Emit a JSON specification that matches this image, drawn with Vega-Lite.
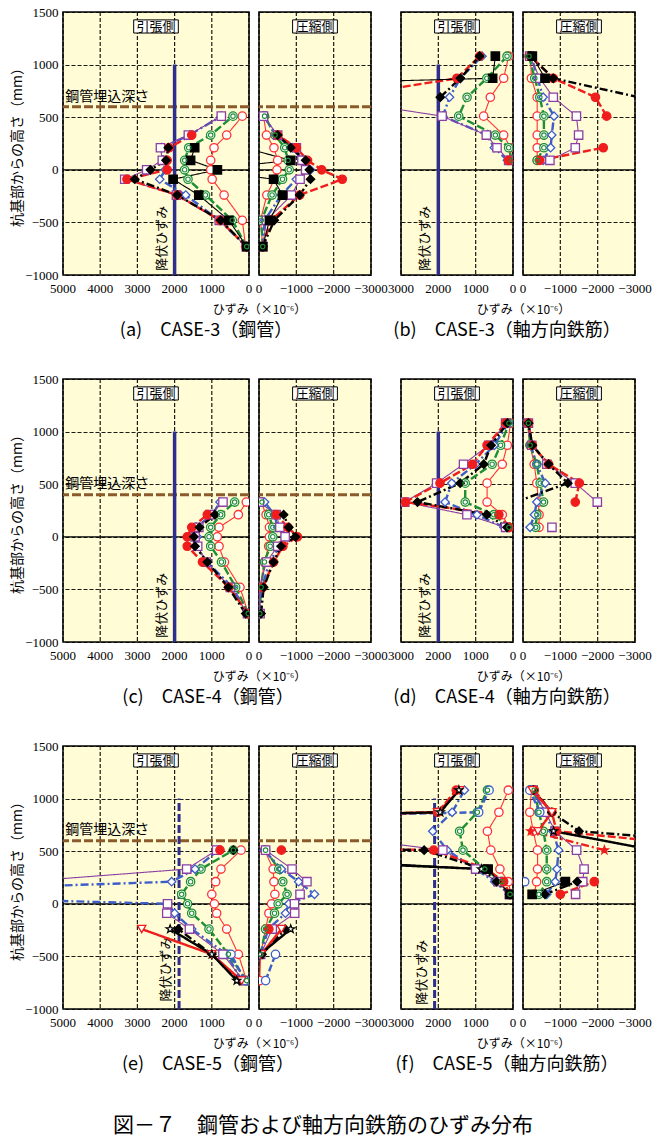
{
"$schema": "https://vega.github.io/schema/vega-lite/v6.json",
"padding": {"left": 9, "top": 5, "right": 2, "bottom": 6},
"background": "#ffffff",
"datasets": {"d": [
{"p":"at","s":"a","y":510,"x":180},{"p":"at","s":"a","y":330,"x":600},{"p":"at","s":"a","y":210,"x":940},{"p":"at","s":"a","y":90,"x":1030},{"p":"at","s":"a","y":0,"x":1030},{"p":"at","s":"a","y":-90,"x":990},{"p":"at","s":"a","y":-240,"x":670},{"p":"at","s":"a","y":-480,"x":180},{"p":"at","s":"a","y":-730,"x":90},
{"p":"at","s":"b","y":510,"x":430},{"p":"at","s":"b","y":330,"x":1030},{"p":"at","s":"b","y":210,"x":1620},{"p":"at","s":"b","y":90,"x":1730},{"p":"at","s":"b","y":0,"x":1730},{"p":"at","s":"b","y":-90,"x":1640},{"p":"at","s":"b","y":-240,"x":1170},{"p":"at","s":"b","y":-480,"x":450},{"p":"at","s":"b","y":-730,"x":60},
{"p":"at","s":"c","y":510,"x":745},{"p":"at","s":"c","y":330,"x":1600},{"p":"at","s":"c","y":210,"x":2350},{"p":"at","s":"c","y":90,"x":2300},{"p":"at","s":"c","y":0,"x":2250},{"p":"at","s":"c","y":-90,"x":2400},{"p":"at","s":"c","y":-240,"x":1700},{"p":"at","s":"c","y":-480,"x":800},{"p":"at","s":"c","y":-730,"x":70},
{"p":"at","s":"d","y":510,"x":745},{"p":"at","s":"d","y":330,"x":1630},{"p":"at","s":"d","y":210,"x":2380},{"p":"at","s":"d","y":90,"x":2330},{"p":"at","s":"d","y":0,"x":2750},{"p":"at","s":"d","y":-90,"x":3340},{"p":"at","s":"d","y":-240,"x":1950},{"p":"at","s":"d","y":-480,"x":800},{"p":"at","s":"d","y":-730,"x":70},
{"p":"at","s":"e","y":330,"x":1540},{"p":"at","s":"e","y":210,"x":2150},{"p":"at","s":"e","y":90,"x":2200},{"p":"at","s":"e","y":0,"x":2200},{"p":"at","s":"e","y":-90,"x":3280},{"p":"at","s":"e","y":-240,"x":1930},{"p":"at","s":"e","y":-480,"x":780},{"p":"at","s":"e","y":-730,"x":70},
{"p":"at","s":"f","y":210,"x":2170},{"p":"at","s":"f","y":90,"x":2230},{"p":"at","s":"f","y":0,"x":2650},{"p":"at","s":"f","y":-90,"x":3070},{"p":"at","s":"f","y":-240,"x":1930},{"p":"at","s":"f","y":-480,"x":760},{"p":"at","s":"f","y":-730,"x":60},
{"p":"at","s":"g","y":210,"x":1460},{"p":"at","s":"g","y":90,"x":1570},{"p":"at","s":"g","y":0,"x":850},{"p":"at","s":"g","y":-90,"x":2040},{"p":"at","s":"g","y":-240,"x":1350},{"p":"at","s":"g","y":-480,"x":540},{"p":"at","s":"g","y":-730,"x":60},

{"p":"ac","s":"a","y":510,"x":-120},{"p":"ac","s":"a","y":330,"x":-200},{"p":"ac","s":"a","y":210,"x":-400},{"p":"ac","s":"a","y":90,"x":-500},{"p":"ac","s":"a","y":0,"x":-480},{"p":"ac","s":"a","y":-90,"x":-410},{"p":"ac","s":"a","y":-240,"x":-210},{"p":"ac","s":"a","y":-480,"x":-40},{"p":"ac","s":"a","y":-730,"x":-100},
{"p":"ac","s":"b","y":510,"x":-150},{"p":"ac","s":"b","y":330,"x":-430},{"p":"ac","s":"b","y":210,"x":-690},{"p":"ac","s":"b","y":90,"x":-780},{"p":"ac","s":"b","y":0,"x":-810},{"p":"ac","s":"b","y":-90,"x":-630},{"p":"ac","s":"b","y":-240,"x":-350},{"p":"ac","s":"b","y":-480,"x":-60},{"p":"ac","s":"b","y":-730,"x":-100},
{"p":"ac","s":"c","y":510,"x":-130},{"p":"ac","s":"c","y":330,"x":-450},{"p":"ac","s":"c","y":210,"x":-900},{"p":"ac","s":"c","y":90,"x":-1150},{"p":"ac","s":"c","y":0,"x":-1380},{"p":"ac","s":"c","y":-90,"x":-1000},{"p":"ac","s":"c","y":-240,"x":-600},{"p":"ac","s":"c","y":-480,"x":-150},{"p":"ac","s":"c","y":-730,"x":-100},
{"p":"ac","s":"d","y":510,"x":-120},{"p":"ac","s":"d","y":330,"x":-500},{"p":"ac","s":"d","y":210,"x":-1000},{"p":"ac","s":"d","y":90,"x":-1150},{"p":"ac","s":"d","y":0,"x":-1250},{"p":"ac","s":"d","y":-90,"x":-1100},{"p":"ac","s":"d","y":-240,"x":-870},{"p":"ac","s":"d","y":-480,"x":-200},{"p":"ac","s":"d","y":-730,"x":-100},
{"p":"ac","s":"e","y":330,"x":-500},{"p":"ac","s":"e","y":210,"x":-1000},{"p":"ac","s":"e","y":90,"x":-1300},{"p":"ac","s":"e","y":0,"x":-1680},{"p":"ac","s":"e","y":-90,"x":-2230},{"p":"ac","s":"e","y":-240,"x":-1090},{"p":"ac","s":"e","y":-480,"x":-320},{"p":"ac","s":"e","y":-730,"x":-100},
{"p":"ac","s":"f","y":330,"x":-500},{"p":"ac","s":"f","y":210,"x":-850},{"p":"ac","s":"f","y":90,"x":-1250},{"p":"ac","s":"f","y":0,"x":-1350},{"p":"ac","s":"f","y":-90,"x":-1380},{"p":"ac","s":"f","y":-240,"x":-1090},{"p":"ac","s":"f","y":-480,"x":-410},{"p":"ac","s":"f","y":-730,"x":-100},
{"p":"ac","s":"g","y":210,"x":400},{"p":"ac","s":"g","y":90,"x":-850},{"p":"ac","s":"g","y":0,"x":1500},{"p":"ac","s":"g","y":-90,"x":-390},{"p":"ac","s":"g","y":-240,"x":-630},{"p":"ac","s":"g","y":-480,"x":-280},{"p":"ac","s":"g","y":-730,"x":-100},

{"p":"bt","s":"a","y":1080,"x":116},{"p":"bt","s":"a","y":870,"x":250},{"p":"bt","s":"a","y":690,"x":607},{"p":"bt","s":"a","y":510,"x":786},{"p":"bt","s":"a","y":330,"x":250},{"p":"bt","s":"a","y":210,"x":71},{"p":"bt","s":"a","y":90,"x":90},
{"p":"bt","s":"b","y":1080,"x":160},{"p":"bt","s":"b","y":870,"x":700},{"p":"bt","s":"b","y":690,"x":1230},{"p":"bt","s":"b","y":510,"x":1455},{"p":"bt","s":"b","y":330,"x":473},{"p":"bt","s":"b","y":210,"x":116},{"p":"bt","s":"b","y":90,"x":27},
{"p":"bt","s":"c","y":1080,"x":830},{"p":"bt","s":"c","y":870,"x":1410},{"p":"bt","s":"c","y":690,"x":1700},{"p":"bt","s":"c","y":510,"x":1880},{"p":"bt","s":"c","y":330,"x":700},{"p":"bt","s":"c","y":210,"x":500},{"p":"bt","s":"c","y":90,"x":150},
{"p":"bt","s":"d","y":690,"x":5200},{"p":"bt","s":"d","y":510,"x":1900},{"p":"bt","s":"d","y":330,"x":714},{"p":"bt","s":"d","y":210,"x":428},{"p":"bt","s":"d","y":90,"x":116},
{"p":"bt","s":"e","y":1080,"x":893},{"p":"bt","s":"e","y":870,"x":1500},{"p":"bt","s":"e","y":690,"x":4700},{"p":"bt","s":"e","y":510,"x":null},{"p":"bt","s":"e","y":90,"x":116},
{"p":"bt","s":"f","y":1080,"x":893},{"p":"bt","s":"f","y":870,"x":1410},{"p":"bt","s":"f","y":690,"x":1947},
{"p":"bt","s":"g","y":1080,"x":473},{"p":"bt","s":"g","y":870,"x":545},{"p":"bt","s":"g","y":690,"x":20000},

{"p":"bc","s":"a","y":1080,"x":-200},{"p":"bc","s":"a","y":870,"x":-225},{"p":"bc","s":"a","y":690,"x":-380},{"p":"bc","s":"a","y":510,"x":-380},{"p":"bc","s":"a","y":330,"x":-380},{"p":"bc","s":"a","y":210,"x":-380},{"p":"bc","s":"a","y":90,"x":-380},
{"p":"bc","s":"b","y":1080,"x":-160},{"p":"bc","s":"b","y":870,"x":-315},{"p":"bc","s":"b","y":690,"x":-450},{"p":"bc","s":"b","y":510,"x":-560},{"p":"bc","s":"b","y":330,"x":-560},{"p":"bc","s":"b","y":210,"x":-560},{"p":"bc","s":"b","y":90,"x":-380},
{"p":"bc","s":"c","y":1080,"x":-225},{"p":"bc","s":"c","y":870,"x":-390},{"p":"bc","s":"c","y":690,"x":-540},{"p":"bc","s":"c","y":510,"x":-830},{"p":"bc","s":"c","y":330,"x":-770},{"p":"bc","s":"c","y":210,"x":-740},{"p":"bc","s":"c","y":90,"x":-540},
{"p":"bc","s":"d","y":1080,"x":-180},{"p":"bc","s":"d","y":870,"x":-450},{"p":"bc","s":"d","y":690,"x":-810},{"p":"bc","s":"d","y":510,"x":-1430},{"p":"bc","s":"d","y":330,"x":-1490},{"p":"bc","s":"d","y":210,"x":-1400},{"p":"bc","s":"d","y":90,"x":-720},
{"p":"bc","s":"e","y":1080,"x":-200},{"p":"bc","s":"e","y":870,"x":-810},{"p":"bc","s":"e","y":690,"x":-1940},{"p":"bc","s":"e","y":510,"x":-2240},{"p":"bc","s":"e","y":330,"x":null},{"p":"bc","s":"e","y":210,"x":-2150},{"p":"bc","s":"e","y":90,"x":-450},
{"p":"bc","s":"f","y":1080,"x":-200},{"p":"bc","s":"f","y":870,"x":-810},{"p":"bc","s":"f","y":690,"x":-3100},
{"p":"bc","s":"g","y":1080,"x":-250},{"p":"bc","s":"g","y":870,"x":-590},

{"p":"ct","s":"a","y":330,"x":72},{"p":"ct","s":"a","y":210,"x":287},{"p":"ct","s":"a","y":90,"x":806},{"p":"ct","s":"a","y":0,"x":851},{"p":"ct","s":"a","y":-90,"x":806},{"p":"ct","s":"a","y":-240,"x":660},{"p":"ct","s":"a","y":-480,"x":242},{"p":"ct","s":"a","y":-730,"x":20},
{"p":"ct","s":"b","y":330,"x":385},{"p":"ct","s":"b","y":210,"x":762},{"p":"ct","s":"b","y":90,"x":1030},{"p":"ct","s":"b","y":0,"x":1075},{"p":"ct","s":"b","y":-90,"x":1030},{"p":"ct","s":"b","y":-240,"x":740},{"p":"ct","s":"b","y":-480,"x":358},{"p":"ct","s":"b","y":-730,"x":20},
{"p":"ct","s":"c","y":330,"x":780},{"p":"ct","s":"c","y":210,"x":985},{"p":"ct","s":"c","y":90,"x":1430},{"p":"ct","s":"c","y":0,"x":1390},{"p":"ct","s":"c","y":-90,"x":1430},{"p":"ct","s":"c","y":-240,"x":1120},{"p":"ct","s":"c","y":-480,"x":450},{"p":"ct","s":"c","y":-730,"x":40},
{"p":"ct","s":"d","y":330,"x":700},{"p":"ct","s":"d","y":210,"x":1050},{"p":"ct","s":"d","y":90,"x":1350},{"p":"ct","s":"d","y":0,"x":1450},{"p":"ct","s":"d","y":-90,"x":1380},{"p":"ct","s":"d","y":-240,"x":1150},{"p":"ct","s":"d","y":-480,"x":500},{"p":"ct","s":"d","y":-730,"x":40},
{"p":"ct","s":"e","y":210,"x":1120},{"p":"ct","s":"e","y":90,"x":1540},{"p":"ct","s":"e","y":0,"x":1660},{"p":"ct","s":"e","y":-90,"x":1660},{"p":"ct","s":"e","y":-240,"x":1250},{"p":"ct","s":"e","y":-480,"x":540},{"p":"ct","s":"e","y":-730,"x":20},
{"p":"ct","s":"f","y":210,"x":915},{"p":"ct","s":"f","y":90,"x":1330},{"p":"ct","s":"f","y":0,"x":1480},{"p":"ct","s":"f","y":-90,"x":1450},{"p":"ct","s":"f","y":-240,"x":1120},{"p":"ct","s":"f","y":-480,"x":555},{"p":"ct","s":"f","y":-730,"x":90},

{"p":"cc","s":"a","y":330,"x":-60},{"p":"cc","s":"a","y":210,"x":-190},{"p":"cc","s":"a","y":90,"x":-280},{"p":"cc","s":"a","y":0,"x":-280},{"p":"cc","s":"a","y":-90,"x":-260},{"p":"cc","s":"a","y":-240,"x":-145},{"p":"cc","s":"a","y":-480,"x":-45},{"p":"cc","s":"a","y":-730,"x":-20},
{"p":"cc","s":"b","y":330,"x":-80},{"p":"cc","s":"b","y":210,"x":-260},{"p":"cc","s":"b","y":90,"x":-370},{"p":"cc","s":"b","y":0,"x":-370},{"p":"cc","s":"b","y":-90,"x":-300},{"p":"cc","s":"b","y":-240,"x":-145},{"p":"cc","s":"b","y":-480,"x":-55},{"p":"cc","s":"b","y":-730,"x":-20},
{"p":"cc","s":"c","y":330,"x":-150},{"p":"cc","s":"c","y":210,"x":-415},{"p":"cc","s":"c","y":90,"x":-500},{"p":"cc","s":"c","y":0,"x":-685},{"p":"cc","s":"c","y":-90,"x":-550},{"p":"cc","s":"c","y":-240,"x":-280},{"p":"cc","s":"c","y":-480,"x":-80},{"p":"cc","s":"c","y":-730,"x":-30},
{"p":"cc","s":"d","y":330,"x":-10},{"p":"cc","s":"d","y":210,"x":-460},{"p":"cc","s":"d","y":90,"x":-560},{"p":"cc","s":"d","y":0,"x":-700},{"p":"cc","s":"d","y":-90,"x":-500},{"p":"cc","s":"d","y":-240,"x":-200},{"p":"cc","s":"d","y":-480,"x":-10},{"p":"cc","s":"d","y":-730,"x":-30},
{"p":"cc","s":"e","y":210,"x":-460},{"p":"cc","s":"e","y":90,"x":-775},{"p":"cc","s":"e","y":0,"x":-1030},{"p":"cc","s":"e","y":-90,"x":-640},{"p":"cc","s":"e","y":-240,"x":-390},{"p":"cc","s":"e","y":-480,"x":-100},
{"p":"cc","s":"f","y":210,"x":-660},{"p":"cc","s":"f","y":90,"x":-800},{"p":"cc","s":"f","y":0,"x":-980},{"p":"cc","s":"f","y":-90,"x":-590},{"p":"cc","s":"f","y":-240,"x":-390},{"p":"cc","s":"f","y":-480,"x":-125},{"p":"cc","s":"f","y":-730,"x":-55},

{"p":"dt","s":"a","y":1080,"x":63},{"p":"dt","s":"a","y":870,"x":153},{"p":"dt","s":"a","y":690,"x":288},{"p":"dt","s":"a","y":510,"x":694},{"p":"dt","s":"a","y":330,"x":694},{"p":"dt","s":"a","y":210,"x":288},{"p":"dt","s":"a","y":90,"x":108},
{"p":"dt","s":"b","y":1080,"x":108},{"p":"dt","s":"b","y":870,"x":333},{"p":"dt","s":"b","y":690,"x":559},{"p":"dt","s":"b","y":510,"x":1280},{"p":"dt","s":"b","y":330,"x":1280},{"p":"dt","s":"b","y":210,"x":514},{"p":"dt","s":"b","y":90,"x":108},
{"p":"dt","s":"c","y":1080,"x":126},{"p":"dt","s":"c","y":870,"x":500},{"p":"dt","s":"c","y":690,"x":1000},{"p":"dt","s":"c","y":510,"x":1640},{"p":"dt","s":"c","y":330,"x":1820},{"p":"dt","s":"c","y":210,"x":964},{"p":"dt","s":"c","y":90,"x":243},
{"p":"dt","s":"d","y":1080,"x":198},{"p":"dt","s":"d","y":870,"x":650},{"p":"dt","s":"d","y":690,"x":1325},{"p":"dt","s":"d","y":510,"x":2045},{"p":"dt","s":"d","y":330,"x":2900},{"p":"dt","s":"d","y":210,"x":1234},{"p":"dt","s":"d","y":90,"x":198},
{"p":"dt","s":"e","y":1080,"x":198},{"p":"dt","s":"e","y":870,"x":694},{"p":"dt","s":"e","y":690,"x":1081},{"p":"dt","s":"e","y":510,"x":1955},{"p":"dt","s":"e","y":330,"x":2883},{"p":"dt","s":"e","y":210,"x":378},{"p":"dt","s":"e","y":90,"x":108},
{"p":"dt","s":"f","y":1080,"x":153},{"p":"dt","s":"f","y":870,"x":586},{"p":"dt","s":"f","y":690,"x":784},{"p":"dt","s":"f","y":510,"x":1415},{"p":"dt","s":"f","y":330,"x":2559},{"p":"dt","s":"f","y":210,"x":700},{"p":"dt","s":"f","y":90,"x":160},

{"p":"dc","s":"a","y":1080,"x":-145},{"p":"dc","s":"a","y":870,"x":-190},{"p":"dc","s":"a","y":690,"x":-300},{"p":"dc","s":"a","y":510,"x":-370},{"p":"dc","s":"a","y":330,"x":-415},{"p":"dc","s":"a","y":210,"x":-430},{"p":"dc","s":"a","y":90,"x":-430},
{"p":"dc","s":"b","y":1080,"x":-145},{"p":"dc","s":"b","y":870,"x":-190},{"p":"dc","s":"b","y":690,"x":-370},{"p":"dc","s":"b","y":510,"x":-460},{"p":"dc","s":"b","y":330,"x":-550},{"p":"dc","s":"b","y":210,"x":-370},{"p":"dc","s":"b","y":90,"x":-340},
{"p":"dc","s":"c","y":1080,"x":-145},{"p":"dc","s":"c","y":870,"x":-200},{"p":"dc","s":"c","y":690,"x":-370},{"p":"dc","s":"c","y":510,"x":-595},{"p":"dc","s":"c","y":330,"x":-370},{"p":"dc","s":"c","y":210,"x":-305},{"p":"dc","s":"c","y":90,"x":-190},
{"p":"dc","s":"d","y":1080,"x":-145},{"p":"dc","s":"d","y":870,"x":-235},{"p":"dc","s":"d","y":690,"x":-640},{"p":"dc","s":"d","y":510,"x":-1400},{"p":"dc","s":"d","y":330,"x":-1990},{"p":"dc","s":"d","y":210,"x":null},{"p":"dc","s":"d","y":90,"x":-775},
{"p":"dc","s":"e","y":1080,"x":-145},{"p":"dc","s":"e","y":870,"x":-250},{"p":"dc","s":"e","y":690,"x":-685},{"p":"dc","s":"e","y":510,"x":-1510},{"p":"dc","s":"e","y":330,"x":-1400},
{"p":"dc","s":"f","y":1080,"x":-145},{"p":"dc","s":"f","y":870,"x":-250},{"p":"dc","s":"f","y":690,"x":-685},{"p":"dc","s":"f","y":510,"x":-1200},{"p":"dc","s":"f","y":330,"x":200},

{"p":"et","s":"a","y":510,"x":215},{"p":"et","s":"a","y":330,"x":753},{"p":"et","s":"a","y":210,"x":896},{"p":"et","s":"a","y":90,"x":1000},{"p":"et","s":"a","y":0,"x":930},{"p":"et","s":"a","y":-90,"x":870},{"p":"et","s":"a","y":-240,"x":600},{"p":"et","s":"a","y":-480,"x":287},{"p":"et","s":"a","y":-730,"x":63},
{"p":"et","s":"b","y":510,"x":421},{"p":"et","s":"b","y":330,"x":1290},{"p":"et","s":"b","y":210,"x":1570},{"p":"et","s":"b","y":90,"x":1810},{"p":"et","s":"b","y":0,"x":1650},{"p":"et","s":"b","y":-90,"x":1540},{"p":"et","s":"b","y":-240,"x":1075},{"p":"et","s":"b","y":-480,"x":555},{"p":"et","s":"b","y":-730,"x":63},
{"p":"et","s":"c","y":510,"x":825},{"p":"et","s":"c","y":330,"x":1450},{"p":"et","s":"c","y":210,"x":2080},{"p":"et","s":"c","y":90,"x":12000},{"p":"et","s":"c","y":0,"x":2170},{"p":"et","s":"c","y":-90,"x":2000},{"p":"et","s":"c","y":-240,"x":1540},{"p":"et","s":"c","y":-480,"x":600},{"p":"et","s":"c","y":-730,"x":197},
{"p":"et","s":"d","y":510,"x":870},{"p":"et","s":"d","y":330,"x":1675},{"p":"et","s":"d","y":210,"x":6100},{"p":"et","s":"d","y":90,"x":null},{"p":"et","s":"d","y":0,"x":2190},{"p":"et","s":"d","y":-90,"x":2210},{"p":"et","s":"d","y":-240,"x":1600},{"p":"et","s":"d","y":-480,"x":700},{"p":"et","s":"d","y":-730,"x":150},
{"p":"et","s":"e","y":510,"x":780},
{"p":"et","s":"f","y":510,"x":421},{"p":"et","s":"f","y":330,"x":null},{"p":"et","s":"f","y":-240,"x":1900},{"p":"et","s":"f","y":-480,"x":1000},{"p":"et","s":"f","y":-730,"x":250},
{"p":"et","s":"h","y":-480,"x":484},{"p":"et","s":"h","y":-730,"x":108},
{"p":"et","s":"i","y":-240,"x":2885},{"p":"et","s":"i","y":-480,"x":1000},{"p":"et","s":"i","y":-730,"x":197},
{"p":"et","s":"j","y":-240,"x":2120},{"p":"et","s":"j","y":-480,"x":1000},{"p":"et","s":"j","y":-730,"x":330},

{"p":"ec","s":"a","y":510,"x":-150},{"p":"ec","s":"a","y":330,"x":-380},{"p":"ec","s":"a","y":210,"x":-400},{"p":"ec","s":"a","y":90,"x":-425},{"p":"ec","s":"a","y":0,"x":-336},{"p":"ec","s":"a","y":-90,"x":-265},{"p":"ec","s":"a","y":-240,"x":-177},{"p":"ec","s":"a","y":-480,"x":-44},{"p":"ec","s":"a","y":-730,"x":-20},
{"p":"ec","s":"b","y":510,"x":-177},{"p":"ec","s":"b","y":330,"x":-530},{"p":"ec","s":"b","y":210,"x":-637},{"p":"ec","s":"b","y":90,"x":-752},{"p":"ec","s":"b","y":0,"x":-513},{"p":"ec","s":"b","y":-90,"x":-416},{"p":"ec","s":"b","y":-240,"x":-177},{"p":"ec","s":"b","y":-480,"x":-44},
{"p":"ec","s":"c","y":510,"x":-133},{"p":"ec","s":"c","y":330,"x":-600},{"p":"ec","s":"c","y":210,"x":-1062},{"p":"ec","s":"c","y":90,"x":-1487},{"p":"ec","s":"c","y":0,"x":-797},{"p":"ec","s":"c","y":-90,"x":-708},{"p":"ec","s":"c","y":-240,"x":-248},{"p":"ec","s":"c","y":-480,"x":-44},
{"p":"ec","s":"d","y":510,"x":-177},{"p":"ec","s":"d","y":330,"x":-885},{"p":"ec","s":"d","y":210,"x":-1283},{"p":"ec","s":"d","y":90,"x":-1100},{"p":"ec","s":"d","y":0,"x":-950},{"p":"ec","s":"d","y":-90,"x":-956},{"p":"ec","s":"d","y":-240,"x":-354},{"p":"ec","s":"d","y":-480,"x":-44},
{"p":"ec","s":"e","y":510,"x":-600},{"p":"ec","s":"e","y":330,"x":null},{"p":"ec","s":"e","y":-240,"x":-265},
{"p":"ec","s":"f","y":-240,"x":-700},{"p":"ec","s":"f","y":-480,"x":-80},
{"p":"ec","s":"h","y":-480,"x":-442},{"p":"ec","s":"h","y":-730,"x":-177},
{"p":"ec","s":"i","y":-240,"x":-600},{"p":"ec","s":"i","y":-480,"x":-60},
{"p":"ec","s":"j","y":-240,"x":-850},{"p":"ec","s":"j","y":-480,"x":-30},

{"p":"ft","s":"a","y":1080,"x":126},{"p":"ft","s":"a","y":870,"x":378},{"p":"ft","s":"a","y":690,"x":685},{"p":"ft","s":"a","y":510,"x":595},{"p":"ft","s":"a","y":330,"x":351},{"p":"ft","s":"a","y":210,"x":126},{"p":"ft","s":"a","y":90,"x":54},
{"p":"ft","s":"b","y":1080,"x":685},{"p":"ft","s":"b","y":870,"x":955},{"p":"ft","s":"b","y":690,"x":1430},{"p":"ft","s":"b","y":510,"x":1340},{"p":"ft","s":"b","y":330,"x":757},{"p":"ft","s":"b","y":210,"x":300},{"p":"ft","s":"b","y":90,"x":80},
{"p":"ft","s":"c","y":1080,"x":1300},{"p":"ft","s":"c","y":870,"x":1630},{"p":"ft","s":"c","y":690,"x":2150},{"p":"ft","s":"c","y":510,"x":1765},{"p":"ft","s":"c","y":330,"x":1000},{"p":"ft","s":"c","y":210,"x":490},{"p":"ft","s":"c","y":90,"x":100},
{"p":"ft","s":"d","y":690,"x":5900},{"p":"ft","s":"d","y":510,"x":1880},{"p":"ft","s":"d","y":330,"x":1000},{"p":"ft","s":"d","y":210,"x":400},{"p":"ft","s":"d","y":90,"x":100},
{"p":"ft","s":"e","y":1080,"x":1520},{"p":"ft","s":"e","y":870,"x":2020},{"p":"ft","s":"e","y":690,"x":30000},{"p":"ft","s":"e","y":510,"x":2125},{"p":"ft","s":"e","y":330,"x":700},{"p":"ft","s":"e","y":210,"x":250},{"p":"ft","s":"e","y":90,"x":81},
{"p":"ft","s":"f","y":690,"x":30000},{"p":"ft","s":"f","y":510,"x":2380},{"p":"ft","s":"f","y":330,"x":800},{"p":"ft","s":"f","y":210,"x":441},{"p":"ft","s":"f","y":90,"x":81},
{"p":"ft","s":"g","y":510,"x":10000},{"p":"ft","s":"g","y":330,"x":667},{"p":"ft","s":"g","y":90,"x":81},
{"p":"ft","s":"h","y":1080,"x":640},{"p":"ft","s":"h","y":870,"x":919},{"p":"ft","s":"h","y":690,"x":25000},
{"p":"ft","s":"i","y":1080,"x":1430},{"p":"ft","s":"i","y":870,"x":2020},{"p":"ft","s":"i","y":690,"x":20000},
{"p":"ft","s":"j","y":1080,"x":1450},{"p":"ft","s":"j","y":870,"x":1950},{"p":"ft","s":"j","y":690,"x":25000},{"p":"ft","s":"j","y":510,"x":12000},{"p":"ft","s":"j","y":330,"x":847},

{"p":"fc","s":"a","y":1080,"x":-227},{"p":"fc","s":"a","y":870,"x":-182},{"p":"fc","s":"a","y":690,"x":-273},{"p":"fc","s":"a","y":510,"x":-390},{"p":"fc","s":"a","y":330,"x":-390},{"p":"fc","s":"a","y":210,"x":-364},{"p":"fc","s":"a","y":90,"x":-300},
{"p":"fc","s":"b","y":1080,"x":-300},{"p":"fc","s":"b","y":870,"x":-427},{"p":"fc","s":"b","y":690,"x":-545},{"p":"fc","s":"b","y":510,"x":-636},{"p":"fc","s":"b","y":330,"x":-636},{"p":"fc","s":"b","y":210,"x":-636},{"p":"fc","s":"b","y":90,"x":-427},
{"p":"fc","s":"c","y":1080,"x":-245},{"p":"fc","s":"c","y":870,"x":-600},{"p":"fc","s":"c","y":690,"x":-800},{"p":"fc","s":"c","y":510,"x":-954},{"p":"fc","s":"c","y":330,"x":-909},{"p":"fc","s":"c","y":210,"x":-864},{"p":"fc","s":"c","y":90,"x":-636},
{"p":"fc","s":"d","y":1080,"x":-273},{"p":"fc","s":"d","y":870,"x":-600},{"p":"fc","s":"d","y":690,"x":-864},{"p":"fc","s":"d","y":510,"x":-1436},{"p":"fc","s":"d","y":330,"x":-1636},{"p":"fc","s":"d","y":210,"x":-1600},{"p":"fc","s":"d","y":90,"x":-1409},
{"p":"fc","s":"e","y":1080,"x":-300},{"p":"fc","s":"e","y":870,"x":-773},{"p":"fc","s":"e","y":690,"x":-900},{"p":"fc","s":"e","y":510,"x":-6000},{"p":"fc","s":"e","y":330,"x":null},{"p":"fc","s":"e","y":210,"x":-1909},{"p":"fc","s":"e","y":90,"x":-1000},
{"p":"fc","s":"f","y":1080,"x":-273},{"p":"fc","s":"f","y":870,"x":-773},{"p":"fc","s":"f","y":690,"x":-1500},{"p":"fc","s":"f","y":510,"x":-8000},{"p":"fc","s":"f","y":330,"x":null},{"p":"fc","s":"f","y":210,"x":-1450},{"p":"fc","s":"f","y":90,"x":-590},
{"p":"fc","s":"g","y":210,"x":-1136},{"p":"fc","s":"g","y":90,"x":-245},
{"p":"fc","s":"h","y":1080,"x":-182},{"p":"fc","s":"h","y":870,"x":-450},{"p":"fc","s":"h","y":690,"x":null},{"p":"fc","s":"h","y":210,"x":-45},
{"p":"fc","s":"i","y":1080,"x":-250},{"p":"fc","s":"i","y":870,"x":-773},{"p":"fc","s":"i","y":690,"x":-400},
{"p":"fc","s":"j","y":690,"x":-818},{"p":"fc","s":"j","y":510,"x":-3500},
{"p":"fc","s":"k","y":690,"x":-210},{"p":"fc","s":"k","y":510,"x":-2180}
],
"ts": [{"v":0},{"v":1000},{"v":2000},{"v":3000},{"v":4000},{"v":5000}],
"tr": [{"v":0},{"v":1000},{"v":2000},{"v":3000}],
"cp": [{"v":0},{"v":-1000},{"v":-2000},{"v":-3000}]
},
"title": {"text": "図－７　鋼管および軸方向鉄筋のひずみ分布", "orient": "bottom", "anchor": "start", "frame": "group", "fontSize": 21, "offset": 40, "dx": 50},
"columns": 5,
"spacing": {"row": 104, "column": 10},
"bounds": "flush",
"align": "each",
"concat": [
  {"width": 186, "height": 263, "title": {"text": "(a)　CASE-3（鋼管）", "orient": "bottom", "anchor": "middle", "frame": "group", "offset": 7, "dx": 50}, "layer": [
   {"data": {"name": "ts"}, "mark": {"type": "rule", "color": "#000", "strokeWidth": 1.2, "strokeDash": [4, 2], "opacity": 0.9}, "encoding": {"x": {"field": "v", "type": "quantitative"}}},
   {"data": {"values": [{}]}, "mark": {"type": "rule", "color": "#000", "strokeWidth": 1.3}, "encoding": {"y": {"datum": 0}}},
   {"data": {"values": [{}]}, "mark": {"type": "rule", "color": "#8b5a2b", "strokeWidth": 3, "strokeDash": [9, 3]}, "encoding": {"y": {"datum": 600}}},
   {"data": {"values": [{}]}, "mark": {"type": "rule", "color": "#2e2e8c", "strokeWidth": 3.5}, "encoding": {"x": {"datum": 2000}, "y": {"datum": -1000}, "y2": {"datum": 1000}}},
   {"data": {"values": [{}]}, "mark": {"type": "text", "text": "降伏ひずみ", "angle": 270, "fontSize": 13}, "encoding": {"x": {"datum": 2350}, "y": {"datum": -650}}},
   {"data": {"values": [{}]}, "mark": {"type": "text", "text": "鋼管埋込深さ", "fontSize": 14, "align": "left"}, "encoding": {"x": {"datum": 4940}, "y": {"datum": 690}}},
   {"data": {"values": [{}]}, "mark": {"type": "rect", "fill": "#fff", "stroke": "#000", "strokeWidth": 1}, "encoding": {"x": {"datum": 3100}, "x2": {"datum": 1900}, "y": {"datum": 1425}, "y2": {"datum": 1300}}},
   {"data": {"values": [{}]}, "mark": {"type": "text", "text": "引張側", "fontSize": 13}, "encoding": {"x": {"datum": 2500}, "y": {"datum": 1362}}},
   {"data": {"name": "ts"}, "mark": {"type": "text", "baseline": "top", "dy": 8, "fontSize": 13, "font": "Liberation Sans Narrow"}, "encoding": {"x": {"field": "v", "type": "quantitative"}, "y": {"datum": -1000}, "text": {"field": "v", "type": "quantitative", "format": "d"}}},
   {"data": {"name": "d"}, "transform": [{"filter": "datum.p=='at'"}], "mark": {"type": "line", "clip": true}, "encoding": {
     "x": {"field": "x", "type": "quantitative", "scale": {"domain": [0, 5000], "reverse": true, "nice": false, "zero": false}, "axis": {"values": [0, 1000, 2000, 3000, 4000, 5000], "grid": false, "labels": false, "title": "ひずみ（×10⁻⁶）", "titleX": 196, "titleY": 38, "titleBaseline": "alphabetic", "titleAlign": "center"}},
     "y": {"field": "y", "type": "quantitative", "scale": {"domain": [-1000, 1500], "nice": false, "zero": false}, "axis": {"values": [-1000, -500, 0, 500, 1000, 1500], "format": "d", "labelOverlap": false, "title": "杭基部からの高さ（mm）"}},
     "order": {"field": "y", "type": "quantitative"},
     "color": {"field": "s", "type": "nominal", "legend": null, "scale": {"domain": ["a","b","c","d","e","f","g","h","i","j","k"], "range": ["#ff3333","#1f8f36","#3d5ec9","#8b3fa3","#f01d1d","#000000","#000000","#3d5ec9","#f01d1d","#000000","#f01d1d"]}},
     "strokeDash": {"field": "s", "type": "nominal", "legend": null, "scale": {"domain": ["a","b","c","d","e","f","g","h","i","j","k"], "range": [[1,0],[8,3],[8,3,2,3],[1,0],[8,3],[8,3,2,3],[1,0],[7,3],[1,0],[1,0],[8,3,2,3]]}},
     "strokeWidth": {"condition": {"test": "datum.s=='a'||datum.s=='d'||datum.s=='g'", "value": 1.1}, "value": 2.4}}},
   {"data": {"name": "d"}, "transform": [{"filter": "datum.p=='at'"}], "mark": {"type": "point", "clip": true, "opacity": 1, "strokeWidth": 1.3, "size": 70}, "encoding": {
     "x": {"field": "x", "type": "quantitative"}, "y": {"field": "y", "type": "quantitative"},
     "shape": {"field": "s", "type": "nominal", "legend": null, "scale": {"domain": ["a","b","c","d","e","f","g","h","i","j","k"], "range": ["circle","circle","diamond","square","circle","diamond","square","circle","triangle-down","M0,-1L0.235,-0.324L0.951,-0.309L0.38,0.124L0.588,0.809L0,0.4L-0.588,0.809L-0.38,0.124L-0.951,-0.309L-0.235,-0.324Z","M0,-1L0.235,-0.324L0.951,-0.309L0.38,0.124L0.588,0.809L0,0.4L-0.588,0.809L-0.38,0.124L-0.951,-0.309L-0.235,-0.324Z"]}},
     "stroke": {"field": "s", "type": "nominal", "legend": null, "scale": {"domain": ["a","b","c","d","e","f","g","h","i","j","k"], "range": ["#ff3333","#1f8f36","#3d5ec9","#8b3fa3","#f01d1d","#000000","#000000","#3d5ec9","#f01d1d","#000000","#f01d1d"]}},
     "fill": {"field": "s", "type": "nominal", "legend": null, "scale": {"domain": ["a","b","c","d","e","f","g","h","i","j","k"], "range": ["#ffffff","#ffffff","#ffffff","#ffffff","#f01d1d","#000000","#000000","#ffffff","#ffffff","#ffffff","#f01d1d"]}}}},
   {"data": {"name": "d"}, "transform": [{"filter": "datum.p=='at'&&datum.s=='b'"}], "mark": {"type": "point", "clip": true, "opacity": 1, "strokeWidth": 1.1, "size": 20, "shape": "circle", "color": "#1f8f36", "filled": false}, "encoding": {"x": {"field": "x", "type": "quantitative"}, "y": {"field": "y", "type": "quantitative"}}}
  ]},
  {"width": 112, "height": 263, "layer": [
   {"data": {"name": "cp"}, "mark": {"type": "rule", "color": "#000", "strokeWidth": 1.2, "strokeDash": [4, 2], "opacity": 0.9}, "encoding": {"x": {"field": "v", "type": "quantitative"}}},
   {"data": {"values": [{}]}, "mark": {"type": "rule", "color": "#000", "strokeWidth": 1.3}, "encoding": {"y": {"datum": 0}}},
   {"data": {"values": [{}]}, "mark": {"type": "rule", "color": "#8b5a2b", "strokeWidth": 3, "strokeDash": [9, 3]}, "encoding": {"y": {"datum": 600}}},
   {"data": {"values": [{}]}, "mark": {"type": "rect", "fill": "#fff", "stroke": "#000", "strokeWidth": 1}, "encoding": {"x": {"datum": -2100}, "x2": {"datum": -900}, "y": {"datum": 1425}, "y2": {"datum": 1300}}},
   {"data": {"values": [{}]}, "mark": {"type": "text", "text": "圧縮側", "fontSize": 13}, "encoding": {"x": {"datum": -1500}, "y": {"datum": 1362}}},
   {"data": {"name": "cp"}, "mark": {"type": "text", "baseline": "top", "dy": 8, "fontSize": 13, "font": "Liberation Sans Narrow"}, "encoding": {"x": {"field": "v", "type": "quantitative"}, "y": {"datum": -1000}, "text": {"field": "v", "type": "quantitative", "format": "d"}}},
   {"data": {"name": "d"}, "transform": [{"filter": "datum.p=='ac'"}], "mark": {"type": "line", "clip": true}, "encoding": {
     "x": {"field": "x", "type": "quantitative", "scale": {"domain": [-3000, 0], "reverse": true, "nice": false, "zero": false}, "axis": {"values": [0, -1000, -2000, -3000], "grid": false, "labels": false, "title": null}},
     "y": {"field": "y", "type": "quantitative", "scale": {"domain": [-1000, 1500], "nice": false, "zero": false}, "axis": {"values": [-1000, -500, 0, 500, 1000, 1500], "labels": false, "title": null}},
     "order": {"field": "y", "type": "quantitative"},
     "color": {"field": "s", "type": "nominal", "legend": null},
     "strokeDash": {"field": "s", "type": "nominal", "legend": null},
     "strokeWidth": {"condition": {"test": "datum.s=='a'||datum.s=='d'||datum.s=='g'", "value": 1.1}, "value": 2.4}}},
   {"data": {"name": "d"}, "transform": [{"filter": "datum.p=='ac'"}], "mark": {"type": "point", "clip": true, "opacity": 1, "strokeWidth": 1.3, "size": 70}, "encoding": {
     "x": {"field": "x", "type": "quantitative"}, "y": {"field": "y", "type": "quantitative"},
     "shape": {"field": "s", "type": "nominal", "legend": null}, "stroke": {"field": "s", "type": "nominal", "legend": null}, "fill": {"field": "s", "type": "nominal", "legend": null}}},
   {"data": {"name": "d"}, "transform": [{"filter": "datum.p=='ac'&&datum.s=='b'"}], "mark": {"type": "point", "clip": true, "opacity": 1, "strokeWidth": 1.1, "size": 20, "shape": "circle", "color": "#1f8f36", "filled": false}, "encoding": {"x": {"field": "x", "type": "quantitative"}, "y": {"field": "y", "type": "quantitative"}}}
  ]},
  {"width": 10, "height": 263, "data": {"values": [{}]}, "mark": {"type": "point", "opacity": 0}, "view": {"stroke": null, "fill": null}},
  {"width": 112, "height": 263, "title": {"text": "(b)　CASE-3（軸方向鉄筋）", "orient": "bottom", "anchor": "middle", "frame": "group", "offset": 7, "dx": 50}, "layer": [
   {"data": {"name": "tr"}, "mark": {"type": "rule", "color": "#000", "strokeWidth": 1.2, "strokeDash": [4, 2], "opacity": 0.9}, "encoding": {"x": {"field": "v", "type": "quantitative"}}},
   {"data": {"values": [{}]}, "mark": {"type": "rule", "color": "#000", "strokeWidth": 1.3}, "encoding": {"y": {"datum": 0}}},
   {"data": {"values": [{}]}, "mark": {"type": "rule", "color": "#2e2e8c", "strokeWidth": 3.5}, "encoding": {"x": {"datum": 2000}, "y": {"datum": -1000}, "y2": {"datum": 1000}}},
   {"data": {"values": [{}]}, "mark": {"type": "text", "text": "降伏ひずみ", "angle": 270, "fontSize": 13}, "encoding": {"x": {"datum": 2350}, "y": {"datum": -650}}},
   {"data": {"values": [{}]}, "mark": {"type": "rect", "fill": "#fff", "stroke": "#000", "strokeWidth": 1}, "encoding": {"x": {"datum": 2100}, "x2": {"datum": 900}, "y": {"datum": 1425}, "y2": {"datum": 1300}}},
   {"data": {"values": [{}]}, "mark": {"type": "text", "text": "引張側", "fontSize": 13}, "encoding": {"x": {"datum": 1500}, "y": {"datum": 1362}}},
   {"data": {"name": "tr"}, "mark": {"type": "text", "baseline": "top", "dy": 8, "fontSize": 13, "font": "Liberation Sans Narrow"}, "encoding": {"x": {"field": "v", "type": "quantitative"}, "y": {"datum": -1000}, "text": {"field": "v", "type": "quantitative", "format": "d"}}},
   {"data": {"name": "d"}, "transform": [{"filter": "datum.p=='bt'"}], "mark": {"type": "line", "clip": true}, "encoding": {
     "x": {"field": "x", "type": "quantitative", "scale": {"domain": [0, 3000], "reverse": true, "nice": false, "zero": false}, "axis": {"values": [0, 1000, 2000, 3000], "grid": false, "labels": false, "title": "ひずみ（×10⁻⁶）", "titleX": 122, "titleY": 38, "titleBaseline": "alphabetic", "titleAlign": "center"}},
     "y": {"field": "y", "type": "quantitative", "scale": {"domain": [-1000, 1500], "nice": false, "zero": false}, "axis": {"values": [-1000, -500, 0, 500, 1000, 1500], "labels": false, "title": null}},
     "order": {"field": "y", "type": "quantitative"},
     "color": {"field": "s", "type": "nominal", "legend": null},
     "strokeDash": {"field": "s", "type": "nominal", "legend": null},
     "strokeWidth": {"condition": {"test": "datum.s=='a'||datum.s=='d'||datum.s=='g'", "value": 1.1}, "value": 2.4}}},
   {"data": {"name": "d"}, "transform": [{"filter": "datum.p=='bt'"}], "mark": {"type": "point", "clip": true, "opacity": 1, "strokeWidth": 1.3, "size": 70}, "encoding": {
     "x": {"field": "x", "type": "quantitative"}, "y": {"field": "y", "type": "quantitative"},
     "shape": {"field": "s", "type": "nominal", "legend": null}, "stroke": {"field": "s", "type": "nominal", "legend": null}, "fill": {"field": "s", "type": "nominal", "legend": null}}},
   {"data": {"name": "d"}, "transform": [{"filter": "datum.p=='bt'&&datum.s=='b'"}], "mark": {"type": "point", "clip": true, "opacity": 1, "strokeWidth": 1.1, "size": 20, "shape": "circle", "color": "#1f8f36", "filled": false}, "encoding": {"x": {"field": "x", "type": "quantitative"}, "y": {"field": "y", "type": "quantitative"}}}
  ]},
  {"width": 112, "height": 263, "layer": [
   {"data": {"name": "cp"}, "mark": {"type": "rule", "color": "#000", "strokeWidth": 1.2, "strokeDash": [4, 2], "opacity": 0.9}, "encoding": {"x": {"field": "v", "type": "quantitative"}}},
   {"data": {"values": [{}]}, "mark": {"type": "rule", "color": "#000", "strokeWidth": 1.3}, "encoding": {"y": {"datum": 0}}},
   {"data": {"values": [{}]}, "mark": {"type": "rect", "fill": "#fff", "stroke": "#000", "strokeWidth": 1}, "encoding": {"x": {"datum": -2100}, "x2": {"datum": -900}, "y": {"datum": 1425}, "y2": {"datum": 1300}}},
   {"data": {"values": [{}]}, "mark": {"type": "text", "text": "圧縮側", "fontSize": 13}, "encoding": {"x": {"datum": -1500}, "y": {"datum": 1362}}},
   {"data": {"name": "cp"}, "mark": {"type": "text", "baseline": "top", "dy": 8, "fontSize": 13, "font": "Liberation Sans Narrow"}, "encoding": {"x": {"field": "v", "type": "quantitative"}, "y": {"datum": -1000}, "text": {"field": "v", "type": "quantitative", "format": "d"}}},
   {"data": {"name": "d"}, "transform": [{"filter": "datum.p=='bc'"}], "mark": {"type": "line", "clip": true}, "encoding": {
     "x": {"field": "x", "type": "quantitative", "scale": {"domain": [-3000, 0], "reverse": true, "nice": false, "zero": false}, "axis": {"values": [0, -1000, -2000, -3000], "grid": false, "labels": false, "title": null}},
     "y": {"field": "y", "type": "quantitative", "scale": {"domain": [-1000, 1500], "nice": false, "zero": false}, "axis": {"values": [-1000, -500, 0, 500, 1000, 1500], "labels": false, "title": null}},
     "order": {"field": "y", "type": "quantitative"},
     "color": {"field": "s", "type": "nominal", "legend": null},
     "strokeDash": {"field": "s", "type": "nominal", "legend": null},
     "strokeWidth": {"condition": {"test": "datum.s=='a'||datum.s=='d'||datum.s=='g'", "value": 1.1}, "value": 2.4}}},
   {"data": {"name": "d"}, "transform": [{"filter": "datum.p=='bc'"}], "mark": {"type": "point", "clip": true, "opacity": 1, "strokeWidth": 1.3, "size": 70}, "encoding": {
     "x": {"field": "x", "type": "quantitative"}, "y": {"field": "y", "type": "quantitative"},
     "shape": {"field": "s", "type": "nominal", "legend": null}, "stroke": {"field": "s", "type": "nominal", "legend": null}, "fill": {"field": "s", "type": "nominal", "legend": null}}},
   {"data": {"name": "d"}, "transform": [{"filter": "datum.p=='bc'&&datum.s=='b'"}], "mark": {"type": "point", "clip": true, "opacity": 1, "strokeWidth": 1.1, "size": 20, "shape": "circle", "color": "#1f8f36", "filled": false}, "encoding": {"x": {"field": "x", "type": "quantitative"}, "y": {"field": "y", "type": "quantitative"}}}
  ]},
  {"width": 186, "height": 263, "title": {"text": "(c)　CASE-4（鋼管）", "orient": "bottom", "anchor": "middle", "frame": "group", "offset": 7, "dx": 52}, "layer": [
   {"data": {"name": "ts"}, "mark": {"type": "rule", "color": "#000", "strokeWidth": 1.2, "strokeDash": [4, 2], "opacity": 0.9}, "encoding": {"x": {"field": "v", "type": "quantitative"}}},
   {"data": {"values": [{}]}, "mark": {"type": "rule", "color": "#000", "strokeWidth": 1.3}, "encoding": {"y": {"datum": 0}}},
   {"data": {"values": [{}]}, "mark": {"type": "rule", "color": "#8b5a2b", "strokeWidth": 3, "strokeDash": [9, 3]}, "encoding": {"y": {"datum": 400}}},
   {"data": {"values": [{}]}, "mark": {"type": "rule", "color": "#2e2e8c", "strokeWidth": 3.5}, "encoding": {"x": {"datum": 2000}, "y": {"datum": -1000}, "y2": {"datum": 1000}}},
   {"data": {"values": [{}]}, "mark": {"type": "text", "text": "降伏ひずみ", "angle": 270, "fontSize": 13}, "encoding": {"x": {"datum": 2350}, "y": {"datum": -650}}},
   {"data": {"values": [{}]}, "mark": {"type": "text", "text": "鋼管埋込深さ", "fontSize": 14, "align": "left"}, "encoding": {"x": {"datum": 4940}, "y": {"datum": 500}}},
   {"data": {"values": [{}]}, "mark": {"type": "rect", "fill": "#fff", "stroke": "#000", "strokeWidth": 1}, "encoding": {"x": {"datum": 3100}, "x2": {"datum": 1900}, "y": {"datum": 1425}, "y2": {"datum": 1300}}},
   {"data": {"values": [{}]}, "mark": {"type": "text", "text": "引張側", "fontSize": 13}, "encoding": {"x": {"datum": 2500}, "y": {"datum": 1362}}},
   {"data": {"name": "ts"}, "mark": {"type": "text", "baseline": "top", "dy": 8, "fontSize": 13, "font": "Liberation Sans Narrow"}, "encoding": {"x": {"field": "v", "type": "quantitative"}, "y": {"datum": -1000}, "text": {"field": "v", "type": "quantitative", "format": "d"}}},
   {"data": {"name": "d"}, "transform": [{"filter": "datum.p=='ct'"}], "mark": {"type": "line", "clip": true}, "encoding": {
     "x": {"field": "x", "type": "quantitative", "scale": {"domain": [0, 5000], "reverse": true, "nice": false, "zero": false}, "axis": {"values": [0, 1000, 2000, 3000, 4000, 5000], "grid": false, "labels": false, "title": "ひずみ（×10⁻⁶）", "titleX": 196, "titleY": 38, "titleBaseline": "alphabetic", "titleAlign": "center"}},
     "y": {"field": "y", "type": "quantitative", "scale": {"domain": [-1000, 1500], "nice": false, "zero": false}, "axis": {"values": [-1000, -500, 0, 500, 1000, 1500], "format": "d", "labelOverlap": false, "title": "杭基部からの高さ（mm）"}},
     "order": {"field": "y", "type": "quantitative"},
     "color": {"field": "s", "type": "nominal", "legend": null},
     "strokeDash": {"field": "s", "type": "nominal", "legend": null},
     "strokeWidth": {"condition": {"test": "datum.s=='a'||datum.s=='d'||datum.s=='g'", "value": 1.1}, "value": 2.4}}},
   {"data": {"name": "d"}, "transform": [{"filter": "datum.p=='ct'"}], "mark": {"type": "point", "clip": true, "opacity": 1, "strokeWidth": 1.3, "size": 70}, "encoding": {
     "x": {"field": "x", "type": "quantitative"}, "y": {"field": "y", "type": "quantitative"},
     "shape": {"field": "s", "type": "nominal", "legend": null}, "stroke": {"field": "s", "type": "nominal", "legend": null}, "fill": {"field": "s", "type": "nominal", "legend": null}}},
   {"data": {"name": "d"}, "transform": [{"filter": "datum.p=='ct'&&datum.s=='b'"}], "mark": {"type": "point", "clip": true, "opacity": 1, "strokeWidth": 1.1, "size": 20, "shape": "circle", "color": "#1f8f36", "filled": false}, "encoding": {"x": {"field": "x", "type": "quantitative"}, "y": {"field": "y", "type": "quantitative"}}}
  ]},
  {"width": 112, "height": 263, "layer": [
   {"data": {"name": "cp"}, "mark": {"type": "rule", "color": "#000", "strokeWidth": 1.2, "strokeDash": [4, 2], "opacity": 0.9}, "encoding": {"x": {"field": "v", "type": "quantitative"}}},
   {"data": {"values": [{}]}, "mark": {"type": "rule", "color": "#000", "strokeWidth": 1.3}, "encoding": {"y": {"datum": 0}}},
   {"data": {"values": [{}]}, "mark": {"type": "rule", "color": "#8b5a2b", "strokeWidth": 3, "strokeDash": [9, 3]}, "encoding": {"y": {"datum": 400}}},
   {"data": {"values": [{}]}, "mark": {"type": "rect", "fill": "#fff", "stroke": "#000", "strokeWidth": 1}, "encoding": {"x": {"datum": -2100}, "x2": {"datum": -900}, "y": {"datum": 1425}, "y2": {"datum": 1300}}},
   {"data": {"values": [{}]}, "mark": {"type": "text", "text": "圧縮側", "fontSize": 13}, "encoding": {"x": {"datum": -1500}, "y": {"datum": 1362}}},
   {"data": {"name": "cp"}, "mark": {"type": "text", "baseline": "top", "dy": 8, "fontSize": 13, "font": "Liberation Sans Narrow"}, "encoding": {"x": {"field": "v", "type": "quantitative"}, "y": {"datum": -1000}, "text": {"field": "v", "type": "quantitative", "format": "d"}}},
   {"data": {"name": "d"}, "transform": [{"filter": "datum.p=='cc'"}], "mark": {"type": "line", "clip": true}, "encoding": {
     "x": {"field": "x", "type": "quantitative", "scale": {"domain": [-3000, 0], "reverse": true, "nice": false, "zero": false}, "axis": {"values": [0, -1000, -2000, -3000], "grid": false, "labels": false, "title": null}},
     "y": {"field": "y", "type": "quantitative", "scale": {"domain": [-1000, 1500], "nice": false, "zero": false}, "axis": {"values": [-1000, -500, 0, 500, 1000, 1500], "labels": false, "title": null}},
     "order": {"field": "y", "type": "quantitative"},
     "color": {"field": "s", "type": "nominal", "legend": null},
     "strokeDash": {"field": "s", "type": "nominal", "legend": null},
     "strokeWidth": {"condition": {"test": "datum.s=='a'||datum.s=='d'||datum.s=='g'", "value": 1.1}, "value": 2.4}}},
   {"data": {"name": "d"}, "transform": [{"filter": "datum.p=='cc'"}], "mark": {"type": "point", "clip": true, "opacity": 1, "strokeWidth": 1.3, "size": 70}, "encoding": {
     "x": {"field": "x", "type": "quantitative"}, "y": {"field": "y", "type": "quantitative"},
     "shape": {"field": "s", "type": "nominal", "legend": null}, "stroke": {"field": "s", "type": "nominal", "legend": null}, "fill": {"field": "s", "type": "nominal", "legend": null}}},
   {"data": {"name": "d"}, "transform": [{"filter": "datum.p=='cc'&&datum.s=='b'"}], "mark": {"type": "point", "clip": true, "opacity": 1, "strokeWidth": 1.1, "size": 20, "shape": "circle", "color": "#1f8f36", "filled": false}, "encoding": {"x": {"field": "x", "type": "quantitative"}, "y": {"field": "y", "type": "quantitative"}}}
  ]},
  {"width": 10, "height": 263, "data": {"values": [{}]}, "mark": {"type": "point", "opacity": 0}, "view": {"stroke": null, "fill": null}},
  {"width": 112, "height": 263, "title": {"text": "(d)　CASE-4（軸方向鉄筋）", "orient": "bottom", "anchor": "middle", "frame": "group", "offset": 7, "dx": 50}, "layer": [
   {"data": {"name": "tr"}, "mark": {"type": "rule", "color": "#000", "strokeWidth": 1.2, "strokeDash": [4, 2], "opacity": 0.9}, "encoding": {"x": {"field": "v", "type": "quantitative"}}},
   {"data": {"values": [{}]}, "mark": {"type": "rule", "color": "#000", "strokeWidth": 1.3}, "encoding": {"y": {"datum": 0}}},
   {"data": {"values": [{}]}, "mark": {"type": "rule", "color": "#2e2e8c", "strokeWidth": 3.5}, "encoding": {"x": {"datum": 2000}, "y": {"datum": -1000}, "y2": {"datum": 1000}}},
   {"data": {"values": [{}]}, "mark": {"type": "text", "text": "降伏ひずみ", "angle": 270, "fontSize": 13}, "encoding": {"x": {"datum": 2350}, "y": {"datum": -650}}},
   {"data": {"values": [{}]}, "mark": {"type": "rect", "fill": "#fff", "stroke": "#000", "strokeWidth": 1}, "encoding": {"x": {"datum": 2100}, "x2": {"datum": 900}, "y": {"datum": 1425}, "y2": {"datum": 1300}}},
   {"data": {"values": [{}]}, "mark": {"type": "text", "text": "引張側", "fontSize": 13}, "encoding": {"x": {"datum": 1500}, "y": {"datum": 1362}}},
   {"data": {"name": "tr"}, "mark": {"type": "text", "baseline": "top", "dy": 8, "fontSize": 13, "font": "Liberation Sans Narrow"}, "encoding": {"x": {"field": "v", "type": "quantitative"}, "y": {"datum": -1000}, "text": {"field": "v", "type": "quantitative", "format": "d"}}},
   {"data": {"name": "d"}, "transform": [{"filter": "datum.p=='dt'"}], "mark": {"type": "line", "clip": true}, "encoding": {
     "x": {"field": "x", "type": "quantitative", "scale": {"domain": [0, 3000], "reverse": true, "nice": false, "zero": false}, "axis": {"values": [0, 1000, 2000, 3000], "grid": false, "labels": false, "title": "ひずみ（×10⁻⁶）", "titleX": 122, "titleY": 38, "titleBaseline": "alphabetic", "titleAlign": "center"}},
     "y": {"field": "y", "type": "quantitative", "scale": {"domain": [-1000, 1500], "nice": false, "zero": false}, "axis": {"values": [-1000, -500, 0, 500, 1000, 1500], "labels": false, "title": null}},
     "order": {"field": "y", "type": "quantitative"},
     "color": {"field": "s", "type": "nominal", "legend": null},
     "strokeDash": {"field": "s", "type": "nominal", "legend": null},
     "strokeWidth": {"condition": {"test": "datum.s=='a'||datum.s=='d'||datum.s=='g'", "value": 1.1}, "value": 2.4}}},
   {"data": {"name": "d"}, "transform": [{"filter": "datum.p=='dt'"}], "mark": {"type": "point", "clip": true, "opacity": 1, "strokeWidth": 1.3, "size": 70}, "encoding": {
     "x": {"field": "x", "type": "quantitative"}, "y": {"field": "y", "type": "quantitative"},
     "shape": {"field": "s", "type": "nominal", "legend": null}, "stroke": {"field": "s", "type": "nominal", "legend": null}, "fill": {"field": "s", "type": "nominal", "legend": null}}},
   {"data": {"name": "d"}, "transform": [{"filter": "datum.p=='dt'&&datum.s=='b'"}], "mark": {"type": "point", "clip": true, "opacity": 1, "strokeWidth": 1.1, "size": 20, "shape": "circle", "color": "#1f8f36", "filled": false}, "encoding": {"x": {"field": "x", "type": "quantitative"}, "y": {"field": "y", "type": "quantitative"}}}
  ]},
  {"width": 112, "height": 263, "layer": [
   {"data": {"name": "cp"}, "mark": {"type": "rule", "color": "#000", "strokeWidth": 1.2, "strokeDash": [4, 2], "opacity": 0.9}, "encoding": {"x": {"field": "v", "type": "quantitative"}}},
   {"data": {"values": [{}]}, "mark": {"type": "rule", "color": "#000", "strokeWidth": 1.3}, "encoding": {"y": {"datum": 0}}},
   {"data": {"values": [{}]}, "mark": {"type": "rect", "fill": "#fff", "stroke": "#000", "strokeWidth": 1}, "encoding": {"x": {"datum": -2100}, "x2": {"datum": -900}, "y": {"datum": 1425}, "y2": {"datum": 1300}}},
   {"data": {"values": [{}]}, "mark": {"type": "text", "text": "圧縮側", "fontSize": 13}, "encoding": {"x": {"datum": -1500}, "y": {"datum": 1362}}},
   {"data": {"name": "cp"}, "mark": {"type": "text", "baseline": "top", "dy": 8, "fontSize": 13, "font": "Liberation Sans Narrow"}, "encoding": {"x": {"field": "v", "type": "quantitative"}, "y": {"datum": -1000}, "text": {"field": "v", "type": "quantitative", "format": "d"}}},
   {"data": {"name": "d"}, "transform": [{"filter": "datum.p=='dc'"}], "mark": {"type": "line", "clip": true}, "encoding": {
     "x": {"field": "x", "type": "quantitative", "scale": {"domain": [-3000, 0], "reverse": true, "nice": false, "zero": false}, "axis": {"values": [0, -1000, -2000, -3000], "grid": false, "labels": false, "title": null}},
     "y": {"field": "y", "type": "quantitative", "scale": {"domain": [-1000, 1500], "nice": false, "zero": false}, "axis": {"values": [-1000, -500, 0, 500, 1000, 1500], "labels": false, "title": null}},
     "order": {"field": "y", "type": "quantitative"},
     "color": {"field": "s", "type": "nominal", "legend": null},
     "strokeDash": {"field": "s", "type": "nominal", "legend": null},
     "strokeWidth": {"condition": {"test": "datum.s=='a'||datum.s=='d'||datum.s=='g'", "value": 1.1}, "value": 2.4}}},
   {"data": {"name": "d"}, "transform": [{"filter": "datum.p=='dc'"}], "mark": {"type": "point", "clip": true, "opacity": 1, "strokeWidth": 1.3, "size": 70}, "encoding": {
     "x": {"field": "x", "type": "quantitative"}, "y": {"field": "y", "type": "quantitative"},
     "shape": {"field": "s", "type": "nominal", "legend": null}, "stroke": {"field": "s", "type": "nominal", "legend": null}, "fill": {"field": "s", "type": "nominal", "legend": null}}},
   {"data": {"name": "d"}, "transform": [{"filter": "datum.p=='dc'&&datum.s=='b'"}], "mark": {"type": "point", "clip": true, "opacity": 1, "strokeWidth": 1.1, "size": 20, "shape": "circle", "color": "#1f8f36", "filled": false}, "encoding": {"x": {"field": "x", "type": "quantitative"}, "y": {"field": "y", "type": "quantitative"}}}
  ]},
  {"width": 186, "height": 263, "title": {"text": "(e)　CASE-5（鋼管）", "orient": "bottom", "anchor": "middle", "frame": "group", "offset": 7, "dx": 52}, "layer": [
   {"data": {"name": "ts"}, "mark": {"type": "rule", "color": "#000", "strokeWidth": 1.2, "strokeDash": [4, 2], "opacity": 0.9}, "encoding": {"x": {"field": "v", "type": "quantitative"}}},
   {"data": {"values": [{}]}, "mark": {"type": "rule", "color": "#000", "strokeWidth": 1.3}, "encoding": {"y": {"datum": 0}}},
   {"data": {"values": [{}]}, "mark": {"type": "rule", "color": "#8b5a2b", "strokeWidth": 3, "strokeDash": [9, 3]}, "encoding": {"y": {"datum": 600}}},
   {"data": {"values": [{}]}, "mark": {"type": "rule", "color": "#2e2e8c", "strokeWidth": 3, "strokeDash": [8, 3]}, "encoding": {"x": {"datum": 1880}, "y": {"datum": -1000}, "y2": {"datum": 1000}}},
   {"data": {"values": [{}]}, "mark": {"type": "text", "text": "降伏ひずみ", "angle": 270, "fontSize": 13}, "encoding": {"x": {"datum": 2240}, "y": {"datum": -620}}},
   {"data": {"values": [{}]}, "mark": {"type": "text", "text": "鋼管埋込深さ", "fontSize": 14, "align": "left"}, "encoding": {"x": {"datum": 4940}, "y": {"datum": 700}}},
   {"data": {"values": [{}]}, "mark": {"type": "rect", "fill": "#fff", "stroke": "#000", "strokeWidth": 1}, "encoding": {"x": {"datum": 3100}, "x2": {"datum": 1900}, "y": {"datum": 1425}, "y2": {"datum": 1300}}},
   {"data": {"values": [{}]}, "mark": {"type": "text", "text": "引張側", "fontSize": 13}, "encoding": {"x": {"datum": 2500}, "y": {"datum": 1362}}},
   {"data": {"name": "ts"}, "mark": {"type": "text", "baseline": "top", "dy": 8, "fontSize": 13, "font": "Liberation Sans Narrow"}, "encoding": {"x": {"field": "v", "type": "quantitative"}, "y": {"datum": -1000}, "text": {"field": "v", "type": "quantitative", "format": "d"}}},
   {"data": {"name": "d"}, "transform": [{"filter": "datum.p=='et'"}], "mark": {"type": "line", "clip": true}, "encoding": {
     "x": {"field": "x", "type": "quantitative", "scale": {"domain": [0, 5000], "reverse": true, "nice": false, "zero": false}, "axis": {"values": [0, 1000, 2000, 3000, 4000, 5000], "grid": false, "labels": false, "title": "ひずみ（×10⁻⁶）", "titleX": 196, "titleY": 38, "titleBaseline": "alphabetic", "titleAlign": "center"}},
     "y": {"field": "y", "type": "quantitative", "scale": {"domain": [-1000, 1500], "nice": false, "zero": false}, "axis": {"values": [-1000, -500, 0, 500, 1000, 1500], "format": "d", "labelOverlap": false, "title": "杭基部からの高さ（mm）"}},
     "order": {"field": "y", "type": "quantitative"},
     "color": {"field": "s", "type": "nominal", "legend": null},
     "strokeDash": {"field": "s", "type": "nominal", "legend": null},
     "strokeWidth": {"condition": {"test": "datum.s=='a'||datum.s=='d'||datum.s=='g'", "value": 1.1}, "value": 2.4}}},
   {"data": {"name": "d"}, "transform": [{"filter": "datum.p=='et'"}], "mark": {"type": "point", "clip": true, "opacity": 1, "strokeWidth": 1.3, "size": 70}, "encoding": {
     "x": {"field": "x", "type": "quantitative"}, "y": {"field": "y", "type": "quantitative"},
     "shape": {"field": "s", "type": "nominal", "legend": null}, "stroke": {"field": "s", "type": "nominal", "legend": null}, "fill": {"field": "s", "type": "nominal", "legend": null}}},
   {"data": {"name": "d"}, "transform": [{"filter": "datum.p=='et'&&datum.s=='b'"}], "mark": {"type": "point", "clip": true, "opacity": 1, "strokeWidth": 1.1, "size": 20, "shape": "circle", "color": "#1f8f36", "filled": false}, "encoding": {"x": {"field": "x", "type": "quantitative"}, "y": {"field": "y", "type": "quantitative"}}}
  ]},
  {"width": 112, "height": 263, "layer": [
   {"data": {"name": "cp"}, "mark": {"type": "rule", "color": "#000", "strokeWidth": 1.2, "strokeDash": [4, 2], "opacity": 0.9}, "encoding": {"x": {"field": "v", "type": "quantitative"}}},
   {"data": {"values": [{}]}, "mark": {"type": "rule", "color": "#000", "strokeWidth": 1.3}, "encoding": {"y": {"datum": 0}}},
   {"data": {"values": [{}]}, "mark": {"type": "rule", "color": "#8b5a2b", "strokeWidth": 3, "strokeDash": [9, 3]}, "encoding": {"y": {"datum": 600}}},
   {"data": {"values": [{}]}, "mark": {"type": "rect", "fill": "#fff", "stroke": "#000", "strokeWidth": 1}, "encoding": {"x": {"datum": -2100}, "x2": {"datum": -900}, "y": {"datum": 1425}, "y2": {"datum": 1300}}},
   {"data": {"values": [{}]}, "mark": {"type": "text", "text": "圧縮側", "fontSize": 13}, "encoding": {"x": {"datum": -1500}, "y": {"datum": 1362}}},
   {"data": {"name": "cp"}, "mark": {"type": "text", "baseline": "top", "dy": 8, "fontSize": 13, "font": "Liberation Sans Narrow"}, "encoding": {"x": {"field": "v", "type": "quantitative"}, "y": {"datum": -1000}, "text": {"field": "v", "type": "quantitative", "format": "d"}}},
   {"data": {"name": "d"}, "transform": [{"filter": "datum.p=='ec'"}], "mark": {"type": "line", "clip": true}, "encoding": {
     "x": {"field": "x", "type": "quantitative", "scale": {"domain": [-3000, 0], "reverse": true, "nice": false, "zero": false}, "axis": {"values": [0, -1000, -2000, -3000], "grid": false, "labels": false, "title": null}},
     "y": {"field": "y", "type": "quantitative", "scale": {"domain": [-1000, 1500], "nice": false, "zero": false}, "axis": {"values": [-1000, -500, 0, 500, 1000, 1500], "labels": false, "title": null}},
     "order": {"field": "y", "type": "quantitative"},
     "color": {"field": "s", "type": "nominal", "legend": null},
     "strokeDash": {"field": "s", "type": "nominal", "legend": null},
     "strokeWidth": {"condition": {"test": "datum.s=='a'||datum.s=='d'||datum.s=='g'", "value": 1.1}, "value": 2.4}}},
   {"data": {"name": "d"}, "transform": [{"filter": "datum.p=='ec'"}], "mark": {"type": "point", "clip": true, "opacity": 1, "strokeWidth": 1.3, "size": 70}, "encoding": {
     "x": {"field": "x", "type": "quantitative"}, "y": {"field": "y", "type": "quantitative"},
     "shape": {"field": "s", "type": "nominal", "legend": null}, "stroke": {"field": "s", "type": "nominal", "legend": null}, "fill": {"field": "s", "type": "nominal", "legend": null}}},
   {"data": {"name": "d"}, "transform": [{"filter": "datum.p=='ec'&&datum.s=='b'"}], "mark": {"type": "point", "clip": true, "opacity": 1, "strokeWidth": 1.1, "size": 20, "shape": "circle", "color": "#1f8f36", "filled": false}, "encoding": {"x": {"field": "x", "type": "quantitative"}, "y": {"field": "y", "type": "quantitative"}}}
  ]},
  {"width": 10, "height": 263, "data": {"values": [{}]}, "mark": {"type": "point", "opacity": 0}, "view": {"stroke": null, "fill": null}},
  {"width": 112, "height": 263, "title": {"text": "(f)　CASE-5（軸方向鉄筋）", "orient": "bottom", "anchor": "middle", "frame": "group", "offset": 7, "dx": 50}, "layer": [
   {"data": {"name": "tr"}, "mark": {"type": "rule", "color": "#000", "strokeWidth": 1.2, "strokeDash": [4, 2], "opacity": 0.9}, "encoding": {"x": {"field": "v", "type": "quantitative"}}},
   {"data": {"values": [{}]}, "mark": {"type": "rule", "color": "#000", "strokeWidth": 1.3}, "encoding": {"y": {"datum": 0}}},
   {"data": {"values": [{}]}, "mark": {"type": "rule", "color": "#2e2e8c", "strokeWidth": 3, "strokeDash": [8, 3]}, "encoding": {"x": {"datum": 2100}, "y": {"datum": -1000}, "y2": {"datum": 1000}}},
   {"data": {"values": [{}]}, "mark": {"type": "text", "text": "降伏ひずみ", "angle": 270, "fontSize": 13}, "encoding": {"x": {"datum": 2450}, "y": {"datum": -650}}},
   {"data": {"values": [{}]}, "mark": {"type": "rect", "fill": "#fff", "stroke": "#000", "strokeWidth": 1}, "encoding": {"x": {"datum": 2100}, "x2": {"datum": 900}, "y": {"datum": 1425}, "y2": {"datum": 1300}}},
   {"data": {"values": [{}]}, "mark": {"type": "text", "text": "引張側", "fontSize": 13}, "encoding": {"x": {"datum": 1500}, "y": {"datum": 1362}}},
   {"data": {"name": "tr"}, "mark": {"type": "text", "baseline": "top", "dy": 8, "fontSize": 13, "font": "Liberation Sans Narrow"}, "encoding": {"x": {"field": "v", "type": "quantitative"}, "y": {"datum": -1000}, "text": {"field": "v", "type": "quantitative", "format": "d"}}},
   {"data": {"name": "d"}, "transform": [{"filter": "datum.p=='ft'"}], "mark": {"type": "line", "clip": true}, "encoding": {
     "x": {"field": "x", "type": "quantitative", "scale": {"domain": [0, 3000], "reverse": true, "nice": false, "zero": false}, "axis": {"values": [0, 1000, 2000, 3000], "grid": false, "labels": false, "title": "ひずみ（×10⁻⁶）", "titleX": 122, "titleY": 38, "titleBaseline": "alphabetic", "titleAlign": "center"}},
     "y": {"field": "y", "type": "quantitative", "scale": {"domain": [-1000, 1500], "nice": false, "zero": false}, "axis": {"values": [-1000, -500, 0, 500, 1000, 1500], "labels": false, "title": null}},
     "order": {"field": "y", "type": "quantitative"},
     "color": {"field": "s", "type": "nominal", "legend": null},
     "strokeDash": {"field": "s", "type": "nominal", "legend": null},
     "strokeWidth": {"condition": {"test": "datum.s=='a'||datum.s=='d'||datum.s=='g'", "value": 1.1}, "value": 2.4}}},
   {"data": {"name": "d"}, "transform": [{"filter": "datum.p=='ft'"}], "mark": {"type": "point", "clip": true, "opacity": 1, "strokeWidth": 1.3, "size": 70}, "encoding": {
     "x": {"field": "x", "type": "quantitative"}, "y": {"field": "y", "type": "quantitative"},
     "shape": {"field": "s", "type": "nominal", "legend": null}, "stroke": {"field": "s", "type": "nominal", "legend": null}, "fill": {"field": "s", "type": "nominal", "legend": null}}},
   {"data": {"name": "d"}, "transform": [{"filter": "datum.p=='ft'&&datum.s=='b'"}], "mark": {"type": "point", "clip": true, "opacity": 1, "strokeWidth": 1.1, "size": 20, "shape": "circle", "color": "#1f8f36", "filled": false}, "encoding": {"x": {"field": "x", "type": "quantitative"}, "y": {"field": "y", "type": "quantitative"}}}
  ]},
  {"width": 112, "height": 263, "layer": [
   {"data": {"name": "cp"}, "mark": {"type": "rule", "color": "#000", "strokeWidth": 1.2, "strokeDash": [4, 2], "opacity": 0.9}, "encoding": {"x": {"field": "v", "type": "quantitative"}}},
   {"data": {"values": [{}]}, "mark": {"type": "rule", "color": "#000", "strokeWidth": 1.3}, "encoding": {"y": {"datum": 0}}},
   {"data": {"values": [{}]}, "mark": {"type": "rect", "fill": "#fff", "stroke": "#000", "strokeWidth": 1}, "encoding": {"x": {"datum": -2100}, "x2": {"datum": -900}, "y": {"datum": 1425}, "y2": {"datum": 1300}}},
   {"data": {"values": [{}]}, "mark": {"type": "text", "text": "圧縮側", "fontSize": 13}, "encoding": {"x": {"datum": -1500}, "y": {"datum": 1362}}},
   {"data": {"name": "cp"}, "mark": {"type": "text", "baseline": "top", "dy": 8, "fontSize": 13, "font": "Liberation Sans Narrow"}, "encoding": {"x": {"field": "v", "type": "quantitative"}, "y": {"datum": -1000}, "text": {"field": "v", "type": "quantitative", "format": "d"}}},
   {"data": {"name": "d"}, "transform": [{"filter": "datum.p=='fc'"}], "mark": {"type": "line", "clip": true}, "encoding": {
     "x": {"field": "x", "type": "quantitative", "scale": {"domain": [-3000, 0], "reverse": true, "nice": false, "zero": false}, "axis": {"values": [0, -1000, -2000, -3000], "grid": false, "labels": false, "title": null}},
     "y": {"field": "y", "type": "quantitative", "scale": {"domain": [-1000, 1500], "nice": false, "zero": false}, "axis": {"values": [-1000, -500, 0, 500, 1000, 1500], "labels": false, "title": null}},
     "order": {"field": "y", "type": "quantitative"},
     "color": {"field": "s", "type": "nominal", "legend": null},
     "strokeDash": {"field": "s", "type": "nominal", "legend": null},
     "strokeWidth": {"condition": {"test": "datum.s=='a'||datum.s=='d'||datum.s=='g'", "value": 1.1}, "value": 2.4}}},
   {"data": {"name": "d"}, "transform": [{"filter": "datum.p=='fc'"}], "mark": {"type": "point", "clip": true, "opacity": 1, "strokeWidth": 1.3, "size": 70}, "encoding": {
     "x": {"field": "x", "type": "quantitative"}, "y": {"field": "y", "type": "quantitative"},
     "shape": {"field": "s", "type": "nominal", "legend": null}, "stroke": {"field": "s", "type": "nominal", "legend": null}, "fill": {"field": "s", "type": "nominal", "legend": null}}},
   {"data": {"name": "d"}, "transform": [{"filter": "datum.p=='fc'&&datum.s=='b'"}], "mark": {"type": "point", "clip": true, "opacity": 1, "strokeWidth": 1.1, "size": 20, "shape": "circle", "color": "#1f8f36", "filled": false}, "encoding": {"x": {"field": "x", "type": "quantitative"}, "y": {"field": "y", "type": "quantitative"}}}
  ]}
],
"config": {
  "view": {"fill": "#fffcd6", "stroke": "#000", "strokeWidth": 1.5},
  "font": "Noto Sans CJK JP",
  "axis": {"grid": true, "gridColor": "#000", "gridDash": [4, 2], "gridWidth": 1.2, "gridOpacity": 0.9, "ticks": false, "domain": false, "labelFont": "Liberation Sans Narrow", "labelFontSize": 13, "labelColor": "#000", "labelFlush": false, "labelBound": false, "titleFont": "Noto Sans CJK JP", "titleFontWeight": "normal", "titleColor": "#000"},
  "axisX": {"labelPadding": 9, "titleFontSize": 12},
  "axisY": {"labelPadding": 5, "titleFontSize": 14, "titlePadding": 0},
  "title": {"font": "Noto Sans CJK JP", "fontWeight": "normal", "fontSize": 18, "color": "#000"},
  "text": {"font": "Noto Sans CJK JP", "color": "#000"}
}
}
